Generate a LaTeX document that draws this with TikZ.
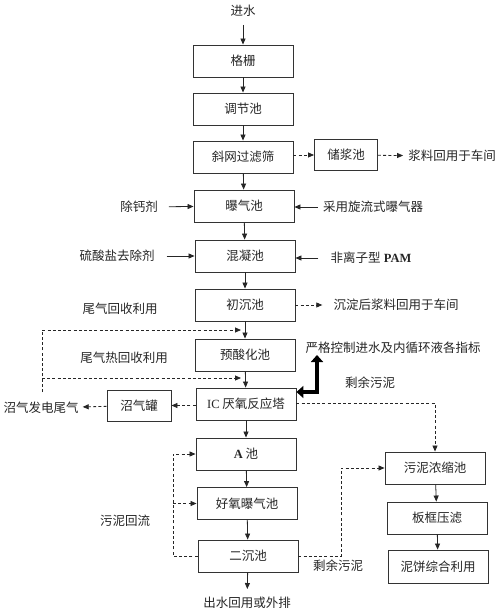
\documentclass[tikz,border=0pt]{standalone}
\usepackage{fontspec}
\setmainfont{Noto Sans CJK SC}
\newfontfamily\lat{Liberation Serif}
\usetikzlibrary{arrows.meta,calc}
\begin{document}
\begin{tikzpicture}[x=1pt,y=-1pt,
  every node/.style={font=\fontsize{12.5}{14}\selectfont, text=black!85, inner sep=0pt},
  box/.style={draw=black!80, line width=0.9pt, minimum width=100pt, minimum height=32pt},
  sbox/.style={box, minimum width=63pt, minimum height=31pt},
  arr/.style={line width=0.8pt, draw=black!85, -{Triangle[length=6pt,width=5pt]}},
  darr/.style={arr, dash pattern=on 3pt off 2.2pt},
  dline/.style={line width=0.8pt, draw=black!85, dash pattern=on 3pt off 2.2pt},
  bigarr/.style={line width=4pt, draw=black, {Triangle[length=7pt,width=12pt]}-{Triangle[length=7pt,width=12pt]}}
]
\useasboundingbox (0,0) rectangle (500,612);
\fill[white] (0,0) rectangle (500,612);

% main column
\node[box] (gs) at (243,61) {格栅};
\node[box] (tj) at (243,109) {调节池};
\node[box] (xw) at (243,157) {斜网过滤筛};
\node[sbox] (cj) at (346,155) {储浆池};
\node[box] (bq) at (244,206) {曝气池};
\node[box] (hn) at (245,256) {混凝池};
\node[box] (cc) at (245,305) {初沉池};
\node[box] (ys) at (245,355) {预酸化池};
\node[box] (ic) at (246,404) {{\lat IC} 厌氧反应塔};
\node[sbox,minimum width=64pt] (zq) at (139,405.5) {沼气罐};
\node[box] (ac) at (246,454) {{\lat\bfseries A} 池};
\node[box] (hy) at (247,503.5) {好氧曝气池};
\node[box] (ec) at (248,556) {二沉池};
\node[box] (wn) at (435,468) {污泥浓缩池};
\node[box] (bk) at (437,518) {板框压滤};
\node[box,minimum height=33pt] (nb) at (438,566.5) {泥饼综合利用};

% text labels
\node (in) at (243,11) {进水};
\node (jl) at (452,156) {浆料回用于车间};
\node (cgj) at (139,207) {除钙剂};
\node (xl) at (373,207) {采用旋流式曝气器};
\node (ls) at (117,256) {硫酸盐去除剂};
\node (pam) at (371,258) {非离子型{\lat\bfseries\ PAM}};
\node (wq1) at (120,309) {尾气回收利用};
\node (cd) at (396,305) {沉淀后浆料回用于车间};
\node (wq2) at (124,358) {尾气热回收利用};
\node (yg) at (393,348) {严格控制进水及内循环液各指标};
\node (sy1) at (370,383) {剩余污泥};
\node (zfd) at (41,408) {沼气发电尾气};
\node (wnhl) at (125,521) {污泥回流};
\node (sy2) at (338,566) {剩余污泥};
\node (cs) at (247,603) {出水回用或外排};

% main flow arrows
\draw[arr, shorten <=8pt] (in) -- (gs);
\draw[arr] (gs) -- (tj);
\draw[arr] (tj) -- (xw);
\draw[arr] (xw) -- (bq);
\draw[arr] (bq) -- (hn);
\draw[arr] (hn) -- (cc);
\draw[arr] (cc) -- (ys);
\draw[arr] (ys) -- (ic);
\draw[arr] (ic) -- (ac);
\draw[arr] (ac) -- (hy);
\draw[arr] (hy) -- (ec);
\draw[arr, shorten >=8pt] (ec) -- (cs);
\draw[arr] (wn) -- (bk);
\draw[arr] (bk) -- (nb);

% side inputs
\draw[arr, shorten <=11pt] (cgj) -- (bq);
\draw[arr, shorten <=5pt] (xl.west) -- (xl.west -| bq.east);
\draw[arr, shorten <=12pt] (ls.east) -- (ls.east -| hn.west);
\draw[arr, shorten <=12pt] (pam.west) -- (pam.west -| hn.east);

% dashed outputs
\draw[darr] (xw.east |- cj) -- (cj);
\draw[darr, shorten >=5pt] (cj) -- (jl);
\draw[darr, shorten >=11pt] (cd.west -| cc.east) -- (cd);
\draw[darr] (ic.west |- zq) -- (zq);
\draw[darr, shorten >=4pt] (zq) -- (zfd);

% tail-gas recovery
\coordinate (t1) at (42,392);
\coordinate (t2) at (42,330);
\coordinate (m1) at (241,330);
\coordinate (m2) at (241,378);
\draw[darr] (t1) -- (t2) -- (m1);
\draw[darr] (t1 |- m2) -- (m2);

% thick control arrow
\coordinate (k1) at (317,355);
\draw[bigarr] (k1) |- ([yshift=12pt]ic.east);

% surplus sludge from IC
\coordinate (s1) at (435,403);
\draw[darr] ([yshift=1pt]ic.east) -- (s1) -- (wn);

% sludge return
\coordinate (r1) at (173,556);
\coordinate (r2) at (173,454);
\coordinate (r3) at (173,503.5);
\draw[darr] (ec) -- (r1) -- (r2) -- (ac);
\draw[darr] (r3) -- (hy);

% surplus sludge from secondary clarifier
\coordinate (q1) at (341,556);
\coordinate (q2) at (341,468);
\draw[darr] (ec) -- (q1) -- (q2) -- (wn);
\end{tikzpicture}
\end{document}
